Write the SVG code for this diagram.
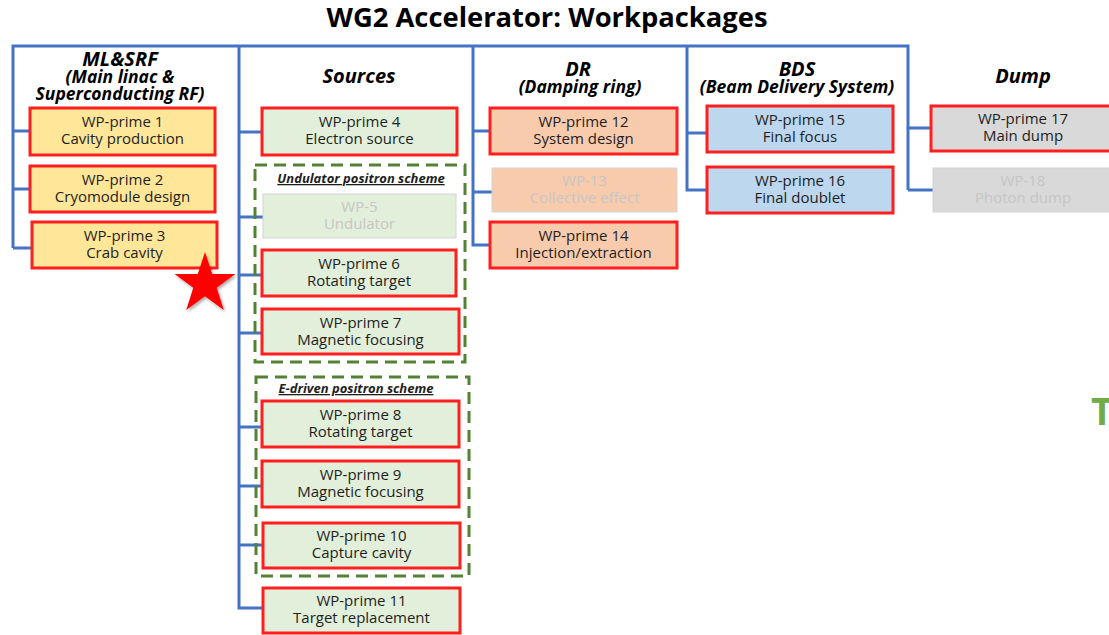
<svg xmlns="http://www.w3.org/2000/svg" width="1109" height="635" viewBox="0 0 1109 635">
  <style>
    .bus { fill: none; stroke: #4472C4; stroke-width: 3; stroke-linejoin: miter; }
    .wp { stroke: #FF1F1F; stroke-width: 3; }
    .off { stroke: #D4D4D4; stroke-width: 1; }
    .ml { fill: #FFE699; }
    .src { fill: #E2EFDA; }
    .dr { fill: #F8CBAD; }
    .bds { fill: #BDD7EE; }
    .dump { fill: #D9D9D9; }
    .grp { fill: none; stroke: #548235; stroke-width: 3; stroke-dasharray: 12 7; }
    text { font-family: "Open Sans", "Liberation Sans", sans-serif; text-anchor: middle; }
    .lbl { font-size: 15px; fill: #1E1E1E; }
    .lbl.faint { fill: #C6C6C6; }
    .head { font-size: 20px; font-weight: bold; font-style: italic; fill: #000; }
    .sub { font-size: 17.5px; font-weight: bold; font-style: italic; fill: #000; }
    .grplbl { font-size: 13px; font-weight: bold; font-style: italic; text-decoration: underline; fill: #1E1E1E; }
  </style>
  <defs>
    <filter id="shadow" x="-30%" y="-30%" width="160%" height="160%">
      <feDropShadow dx="1.5" dy="2" stdDeviation="1.5" flood-color="#000" flood-opacity="0.35"/>
    </filter>
  </defs>

  <rect width="1109" height="635" fill="#FFFFFF"/>

  <text x="547" y="27" font-size="26" font-weight="bold" fill="#000" textLength="441" lengthAdjust="spacingAndGlyphs">WG2 Accelerator: Workpackages</text>

  <!-- tree connectors -->
  <g id="connectors">
    <path class="bus" d="M13,248 V46 H908 V190"/>
    <path class="bus" d="M13,131 H30 M13,189 H30 M13,248 H32"/>
    <path class="bus" d="M239,46 V608 H263"/>
    <path class="bus" d="M239,132 H262 M239,217 H263 M239,275 H262 M239,333 H262 M239,427 H262 M239,486 H262 M239,545 H263"/>
    <path class="bus" d="M473,46 V245 H490"/>
    <path class="bus" d="M473,131 H490 M473,192 H492"/>
    <path class="bus" d="M687,46 V190 H707"/>
    <path class="bus" d="M687,133 H707"/>
    <path class="bus" d="M908,128 H931 M908,190 H933"/>
  </g>

  <!-- column headings -->
  <g id="headings">
    <text class="head" x="120" y="66">ML&amp;SRF</text>
    <text class="sub" x="120" y="83">(Main linac &amp;</text>
    <text class="sub" x="120" y="100">Superconducting RF)</text>
    <text class="head" x="359" y="83">Sources</text>
    <text class="head" x="578" y="76">DR</text>
    <text class="sub" x="580" y="93">(Damping ring)</text>
    <text class="head" x="797" y="76">BDS</text>
    <text class="sub" x="797" y="93">(Beam Delivery System)</text>
    <text class="head" x="1023" y="83">Dump</text>
  </g>

  <!-- positron scheme groupings -->
  <g id="undulator-scheme">
    <rect class="grp" x="255" y="165" width="210" height="197"/>
    <text class="grplbl" x="361" y="183">Undulator positron scheme</text>
  </g>
  <g id="edriven-scheme">
    <rect class="grp" x="256" y="377" width="213" height="199"/>
    <text class="grplbl" x="356" y="393">E-driven positron scheme</text>
  </g>

  <!-- ML&SRF -->
  <g id="wp1">
    <rect class="wp ml" x="30" y="108" width="185" height="47"/>
    <text class="lbl" x="122.5" y="127">WP-prime 1</text>
    <text class="lbl" x="122.5" y="144">Cavity production</text>
  </g>
  <g id="wp2">
    <rect class="wp ml" x="30" y="166" width="185" height="46"/>
    <text class="lbl" x="122.5" y="185">WP-prime 2</text>
    <text class="lbl" x="122.5" y="202">Cryomodule design</text>
  </g>
  <g id="wp3">
    <rect class="wp ml" x="32" y="222" width="185" height="46"/>
    <text class="lbl" x="124.5" y="241">WP-prime 3</text>
    <text class="lbl" x="124.5" y="258">Crab cavity</text>
  </g>

  <!-- Sources -->
  <g id="wp4">
    <rect class="wp src" x="262" y="108" width="195" height="47"/>
    <text class="lbl" x="359.5" y="127">WP-prime 4</text>
    <text class="lbl" x="359.5" y="144">Electron source</text>
  </g>
  <g id="wp5">
    <rect class="off src" x="263" y="194" width="193" height="44"/>
    <text class="lbl faint" x="359.5" y="212">WP-5</text>
    <text class="lbl faint" x="359.5" y="229">Undulator</text>
  </g>
  <g id="wp6">
    <rect class="wp src" x="262" y="250" width="194" height="46"/>
    <text class="lbl" x="359" y="269">WP-prime 6</text>
    <text class="lbl" x="359" y="286">Rotating target</text>
  </g>
  <g id="wp7">
    <rect class="wp src" x="262" y="309" width="197" height="45"/>
    <text class="lbl" x="360.5" y="328">WP-prime 7</text>
    <text class="lbl" x="360.5" y="345">Magnetic focusing</text>
  </g>
  <g id="wp8">
    <rect class="wp src" x="262" y="401" width="197" height="46"/>
    <text class="lbl" x="360.5" y="420">WP-prime 8</text>
    <text class="lbl" x="360.5" y="437">Rotating target</text>
  </g>
  <g id="wp9">
    <rect class="wp src" x="262" y="461" width="197" height="46"/>
    <text class="lbl" x="360.5" y="480">WP-prime 9</text>
    <text class="lbl" x="360.5" y="497">Magnetic focusing</text>
  </g>
  <g id="wp10">
    <rect class="wp src" x="263" y="523" width="197" height="45"/>
    <text class="lbl" x="361.5" y="541">WP-prime 10</text>
    <text class="lbl" x="361.5" y="558">Capture cavity</text>
  </g>
  <g id="wp11">
    <rect class="wp src" x="263" y="588" width="197" height="45"/>
    <text class="lbl" x="361.5" y="606">WP-prime 11</text>
    <text class="lbl" x="361.5" y="623">Target replacement</text>
  </g>

  <!-- Damping ring -->
  <g id="wp12">
    <rect class="wp dr" x="490" y="108" width="187" height="46"/>
    <text class="lbl" x="583.5" y="127">WP-prime 12</text>
    <text class="lbl" x="583.5" y="144">System design</text>
  </g>
  <g id="wp13">
    <rect class="off dr" x="492" y="168" width="185" height="44" stroke="#F0D8C8"/>
    <text class="lbl faint" x="584.5" y="186">WP-13</text>
    <text class="lbl faint" x="584.5" y="203">Collective effect</text>
  </g>
  <g id="wp14">
    <rect class="wp dr" x="490" y="222" width="187" height="46"/>
    <text class="lbl" x="583.5" y="241">WP-prime 14</text>
    <text class="lbl" x="583.5" y="258">Injection/extraction</text>
  </g>

  <!-- Beam delivery -->
  <g id="wp15">
    <rect class="wp bds" x="707" y="106" width="186" height="46"/>
    <text class="lbl" x="800" y="125">WP-prime 15</text>
    <text class="lbl" x="800" y="142">Final focus</text>
  </g>
  <g id="wp16">
    <rect class="wp bds" x="707" y="167" width="186" height="46"/>
    <text class="lbl" x="800" y="186">WP-prime 16</text>
    <text class="lbl" x="800" y="203">Final doublet</text>
  </g>

  <!-- Dump -->
  <g id="wp17">
    <rect class="wp dump" x="931" y="106" width="185" height="45"/>
    <text class="lbl" x="1023" y="124">WP-prime 17</text>
    <text class="lbl" x="1023" y="141">Main dump</text>
  </g>
  <g id="wp18">
    <rect class="off dump" x="933" y="168" width="183" height="44"/>
    <text class="lbl faint" x="1023" y="186">WP-18</text>
    <text class="lbl faint" x="1023" y="203">Photon dump</text>
  </g>

  <!-- highlight star -->
  <polygon id="star" fill="#FF0000" filter="url(#shadow)"
    points="205,252 212.2,274 235.4,274.1 216.7,287.8 223.8,309.9 205,296.3 186.2,309.9 193.3,287.8 174.6,274.1 197.8,274"/>

  <text x="1091" y="425" font-size="38" font-weight="bold" fill="#70AD47" style="text-anchor:start">T</text>
</svg>
